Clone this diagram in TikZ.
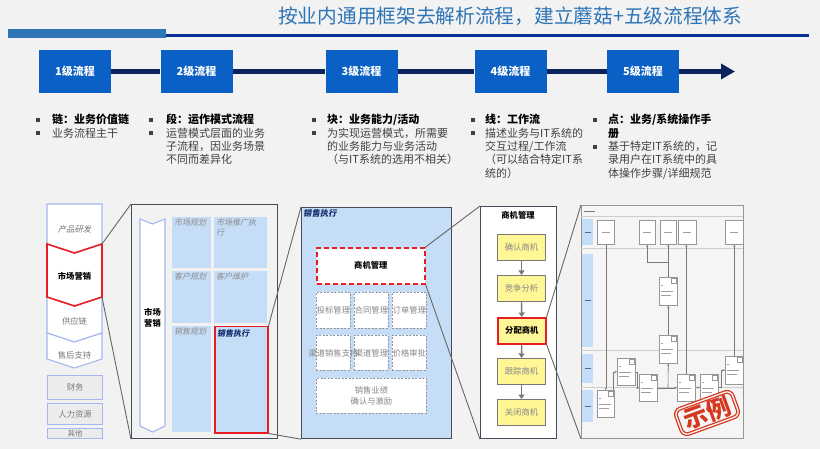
\documentclass[tikz,border=0pt]{standalone}
\usepackage{fontspec}
\setmainfont{Noto Sans CJK SC}
\newfontfamily\slantcjk[FakeSlant=0.22]{Noto Sans CJK SC}
\usetikzlibrary{arrows.meta,calc}
\newcommand\myfs[2]{\fontsize{#1}{#2}\selectfont}
\newcommand\hd[1]{{\bfseries\color{black}#1}}
\definecolor{bg}{RGB}{242,242,242}
\definecolor{titleblue}{RGB}{46,117,182}
\definecolor{ruleblue}{RGB}{10,50,150}
\definecolor{lvlblue}{RGB}{10,96,196}
\definecolor{navy}{RGB}{12,36,92}
\definecolor{txtgray}{RGB}{64,64,64}
\definecolor{lav}{RGB}{165,182,240}
\definecolor{softgray}{RGB}{120,120,120}
\definecolor{paleblue}{RGB}{197,221,246}
\definecolor{framegray}{RGB}{70,76,90}
\definecolor{hotred}{RGB}{230,30,36}
\definecolor{dashgray}{RGB}{150,150,150}
\definecolor{yell}{RGB}{255,246,150}
\definecolor{deepnavy}{RGB}{20,45,110}
\definecolor{stampred}{RGB}{215,55,30}
\definecolor{lanegray}{RGB}{205,205,205}
\definecolor{lanelabel}{RGB}{196,222,250}
\definecolor{boxgray}{RGB}{236,236,238}
\begin{document}
\begin{tikzpicture}[x=1pt,y=-1pt,
  lvl/.style={fill=lvlblue, text=white, font=\bfseries\myfs{11}{13}, minimum width=72, minimum height=43, inner sep=0},
  navyline/.style={draw=navy, line width=5pt},
  coltext/.style={anchor=base west, align=left, inner sep=0, text=txtgray, font=\myfs{11}{13.3}},
  lavshape/.style={draw=lav, line width=1.1pt, fill=white},
  lavbox/.style={draw=lav, line width=1.1pt, fill=boxgray, anchor=north west, inner sep=0, minimum width=55},
  smallgray/.style={text=softgray, font=\myfs{8.3}{10}, inner sep=0},
  boldsmall/.style={text=black, font=\bfseries\myfs{8.3}{11}, inner sep=0},
  cell/.style={fill=paleblue, anchor=north west, inner sep=0},
  celltxt/.style={anchor=north west, inner sep=0, align=left, text=softgray!85, font=\slantcjk\myfs{8}{10}},
  panel/.style={anchor=north west, inner sep=0, draw=framegray, line width=1.2pt},
  gbox/.style={anchor=north west, inner sep=0, fill=white, draw=dashgray, dashed, dash pattern=on 2pt off 1.5pt, line width=0.9pt, minimum width=34, minimum height=36, text=dashgray!90!black, font=\myfs{8.3}{10.5}, align=center},
  ybox/.style={anchor=north west, inner sep=0, fill=yell, draw=softgray, line width=1pt, minimum width=48, minimum height=26, text=softgray!90, font=\myfs{8.3}{10}},
  varrow/.style={draw=softgray, line width=1.4pt, -{Triangle[length=4.5pt,width=6pt]}},
  conn/.style={draw=softgray!85!black, line width=0.9pt},
  docbox/.style={anchor=north west, inner sep=0, fill=white, draw=dashgray, line width=0.6pt},
  flow/.style={draw=softgray, line width=0.6pt, -{Stealth[length=2.5pt,width=2.2pt]}},
  tinymark/.style={draw=softgray!70, line width=0.5pt}
]
\fill[bg] (0,0) rectangle (820,449);
\useasboundingbox (0,0) rectangle (820,449);

% title
\node[anchor=base west, inner sep=0, text=titleblue, font=\myfs{19.7}{22}] (title) at (278,23.5) {按业内通用框架去解析流程，建立蘑菇+五级流程体系};
\fill[titleblue] (8,29) rectangle (166,38);
\draw[ruleblue, line width=2.4pt] (166,35.5) -- (809,35.5);

% levels
\node[lvl] (b1) at (75,71.5) {1级流程};
\node[lvl] (b2) at (196.5,71.5) {2级流程};
\node[lvl] (b3) at (361.5,71.5) {3级流程};
\node[lvl] (b4) at (510.5,71.5) {4级流程};
\node[lvl] (b5) at (643,71.5) {5级流程};
\coordinate (tip) at (735,71.5);
\draw[navyline] (b1.east) -- (b2.west);
\draw[navyline] (b2.east) -- (b3.west);
\draw[navyline] (b3.east) -- (b4.west);
\draw[navyline] (b4.east) -- (b5.west);
\draw[navyline, -{Triangle[length=14pt,width=15pt]}] (b5.east) -- (tip);

% bullet texts (base anchor = baseline of last line)
\foreach \bx/\by in {38/120,38/133,151/120,151/133,314/120,314/133,473/120,473/133,595/120,595/147}
  \fill[txtgray] (\bx-1.6,\by-1.6) rectangle (\bx+1.6,\by+1.6);
\node[coltext] (t1) at (52,137.3) {\hd{链：业务价值链}\\业务流程主干};
\node[coltext] (t2) at (166,163.9) {\hd{段：运作模式流程}\\运营模式层面的业务\\子流程，因业务场景\\不同而差异化};
\node[coltext] (t3) at (327,163.9) {\hd{块：业务能力/活动}\\为实现运营模式，所需要\\的业务能力与业务活动\\（与IT系统的选用不相关）};
\node[coltext] (t4) at (485,177.2) {\hd{线：工作流}\\描述业务与IT系统的\\交互过程/工作流\\（可以结合特定IT系\\统的）};
\node[coltext] (t5) at (608,177.2) {\hd{点：业务/系统操作手}\\\hd{册}\\基于特定IT系统的，记\\录用户在IT系统中的具\\体操作步骤/详细规范};

% ---------- panel 1: value chain ----------
\draw[lavshape] (47,204) -- (102,204) -- (102,244) -- (74.5,253) -- (47,244) -- cycle;
\draw[lavshape] (47,297) -- (74.5,306) -- (102,297) -- (102,333) -- (74.5,342) -- (47,333) -- cycle;
\draw[lavshape] (47,333) -- (74.5,342) -- (102,333) -- (102,359) -- (74.5,368) -- (47,359) -- cycle;
\draw[hotred, line width=1.6pt, fill=white] (47,244) -- (74.5,253) -- (102,244) -- (102,297) -- (74.5,306) -- (47,297) -- cycle;
\coordinate (mkttr) at (102,244);
\coordinate (mktbr) at (102,297);
\node[smallgray, font=\slantcjk\myfs{8.3}{10}] (prd) at (74.5,229) {产品研发};
\node[boldsmall] (mkt) at (74.5,276) {市场营销};
\node[smallgray] (sup) at (74.5,321) {供应链};
\node[smallgray] (aft) at (74.5,355) {售后支持};
\node[lavbox, minimum height=24] (fin) at (47,375) {};
\node[smallgray] at (fin.center) (fint) {财务};
\node[lavbox, minimum height=21] (hr) at (47,403) {};
\node[smallgray] at (hr.center) (hrt) {人力资源};
\node[lavbox, minimum height=10] (oth) at (47,428) {};
\node[smallgray, font=\myfs{7.5}{8}] at (oth.center) (otht) {其他};

% ---------- panel 2 ----------
\node[panel, fill=bg, minimum width=146, minimum height=234] (p2) at (131,204) {};
\draw[lavshape] (140,219) -- (152.5,224) -- (165,219) -- (165,426) -- (152.5,432) -- (140,426) -- cycle;
\node[boldsmall, align=center] (mkt2) at (152.5,318) {市场\\营销};
\node[cell, minimum width=39, minimum height=51] (c11) at (172,217) {};
\node[cell, minimum width=53, minimum height=51] (c12) at (214,217) {};
\node[cell, minimum width=39, minimum height=52] (c21) at (172,271) {};
\node[cell, minimum width=53, minimum height=52] (c22) at (214,271) {};
\node[cell, minimum width=39, minimum height=106] (c31) at (172,326) {};
\node[cell, minimum width=53, minimum height=106, draw=hotred, line width=1.5pt] (c32) at (214,326) {};
\node[celltxt] (l11) at ($(c11.north west)+(2,2)$) {市场规划};
\node[celltxt] (l12) at ($(c12.north west)+(2,2)$) {市场推广执\\行};
\node[celltxt] (l21) at ($(c21.north west)+(2,2)$) {客户规划};
\node[celltxt] (l22) at ($(c22.north west)+(2,2)$) {客户维护};
\node[celltxt] (l31) at ($(c31.north west)+(2,2)$) {销售规划};
\node[celltxt, text=deepnavy, font=\slantcjk\bfseries\myfs{8}{10}] (l32) at ($(c32.north west)+(3,3)$) {销售执行};

% ---------- panel 3 ----------
\node[panel, fill=paleblue, minimum width=150, minimum height=231] (p3) at (301,207) {};
\node[anchor=north west, inner sep=0, text=deepnavy, font=\slantcjk\bfseries\myfs{8.3}{10}] (p3t) at (303,209) {销售执行};
\node[anchor=north west, inner sep=0, fill=white, draw=hotred, line width=1.6pt, dash pattern=on 5pt off 3pt, minimum width=108, minimum height=36, font=\bfseries\myfs{8.3}{10}] (sj) at (316,247) {商机管理};
\node[gbox] (g1) at (316,292) {投标管理};
\node[gbox] (g2) at (354,292) {合同管理};
\node[gbox] (g3) at (392,292) {订单管理};
\node[gbox, minimum height=35] (g4) at (316,335) {};
\node[gbox, minimum height=35] (g5) at (354,335) {渠道管理};
\node[gbox, minimum height=35] (g6) at (392,335) {价格审批};
\node[inner sep=0, text=dashgray!90!black, font=\myfs{8.3}{10.5}] (g4t) at (g4.center) {渠道销售支持};
\node[gbox, minimum width=110, minimum height=35] (g7) at (316,378) {销售业绩\\确认与激励};

% ---------- panel 4 ----------
\node[panel, fill=white, minimum width=76, minimum height=232] (p4) at (480,206) {};
\node[boldsmall] (p4t) at (518,215) {商机管理};
\node[ybox] (y1) at (497,234) {确认商机};
\node[ybox] (y2) at (497,275) {竞争分析};
\node[ybox, draw=hotred, line width=1.6pt, text=black, font=\bfseries\myfs{8.3}{10}] (fp) at (497,317) {分配商机};
\node[ybox] (y4) at (497,358) {跟踪商机};
\node[ybox] (y5) at (497,399) {关闭商机};
\draw[varrow] (y1.south) -- (y2.north);
\draw[varrow] (y2.south) -- (fp.north);
\draw[varrow] (fp.south) -- (y4.north);
\draw[varrow] (y4.south) -- (y5.north);

% ---------- panel 5 ----------
\node[anchor=north west, inner sep=0, fill=white!96!black, draw=dashgray, line width=0.8pt, minimum width=162, minimum height=233] (p5) at (581,205) {};
\draw[lanegray, line width=0.7pt] (581,216) -- (743,216);
\draw[lanegray, line width=0.6pt] (581,248) -- (743,248);
\draw[lanegray, line width=0.6pt] (581,350) -- (743,350);
\draw[lanegray, line width=0.6pt] (581,387) -- (743,387);
\draw[softgray, line width=0.8pt] (584,211) -- (595,211);
\foreach \ya/\yb in {219/245,254/347,354/383,390/422}{
  \fill[lanelabel] (582,\ya) rectangle (593,\yb);
  \draw[deepnavy!70, line width=0.8pt] (584.5,{(\ya+\yb)/2}) -- (590.5,{(\ya+\yb)/2});
}
\node[docbox, minimum width=17, minimum height=24] (T1) at (597,220) {};
\node[docbox, minimum width=16, minimum height=24] (T2) at (639,220) {};
\node[docbox, minimum width=16, minimum height=24] (T3) at (660,220) {};
\node[docbox, minimum width=18, minimum height=24] (T4) at (678,220) {};
\node[docbox, minimum width=18, minimum height=24] (T5) at (725,220) {};
\foreach \n in {T1,T2,T3,T4,T5}
  \draw[tinymark] ($(\n.center)+(-4,0)$) -- ($(\n.center)+(4,0)$);
\node[docbox, minimum width=18, minimum height=28] (A) at (659,277) {};
\node[docbox, minimum width=18, minimum height=28] (B) at (659,335) {};
\node[docbox, minimum width=18, minimum height=27] (C) at (617,358) {};
\node[docbox, minimum width=18, minimum height=27] (D) at (639,374) {};
\node[docbox, minimum width=18, minimum height=27] (E) at (677,374) {};
\node[docbox, minimum width=18, minimum height=26] (F) at (700,374) {};
\node[docbox, minimum width=18, minimum height=28] (G) at (725,356) {};
\node[docbox, minimum width=17, minimum height=27] (H) at (597,390) {};
\foreach \n in {A,B,C,D,E,F,G,H}{
  \draw[dashgray, line width=0.4pt, fill=white] ($(\n.north east)+(-6,1)$) rectangle ++(5,5);
  \draw[tinymark] ($(\n.north west)+(2,8)$) -- ++(2,0);
  \draw[tinymark] ($(\n.north west)+(2,14)$) -- ++(12,0);
  \draw[tinymark] ($(\n.north west)+(2,18)$) -- ++(10,0);
}
\draw[flow] (T1.south) -- (H.north);
\draw[flow] ($(H.north east)+(-1,0)$) |- (C.west);
\draw[flow] (C.east) -- ++(2,0) |- (D.west);
\draw[flow] (D.east) -- (E.west);
\coordinate (split) at (668,387.5);
\draw[flow] (split) -- (B.south);
\draw[flow] (B.north) -- (A.south);
\draw[flow] (A.north) -- (T3.south);
\coordinate (fork) at (668,262);
\draw[flow] (fork) -| (T2.south);
\draw[flow] (E.north) -- (E.north |- T4.south);
\draw[flow] (E.east) -- (F.west);
\draw[flow] (F.east) -- ++(3,0) |- (G.west);
\draw[flow] (G.north) -- (T5.south);

% stamp
\node[rotate=20, draw=stampred, line width=1.3pt, double=white!96!black, double distance=1.3pt, rounded corners=6pt, text=stampred, font=\bfseries\myfs{24}{24}, inner xsep=6pt, inner ysep=2pt] (stamp) at (707,413) {示例};

% ---------- connectors ----------
\draw[conn] (mkttr) -- (p2.north west);
\draw[conn] (mktbr) -- (p2.south west);
\draw[conn] (c32.north east) -- (p3.north west);
\draw[conn] (c32.south east) -- (p3.south west);
\draw[conn] (sj.north east) -- (p4.north west);
\draw[conn] (sj.south east) -- (p4.south west);
\draw[conn] (fp.north east) -- (p5.north west);
\draw[conn] (fp.south east) -- (p5.south west);
\end{tikzpicture}
\end{document}
